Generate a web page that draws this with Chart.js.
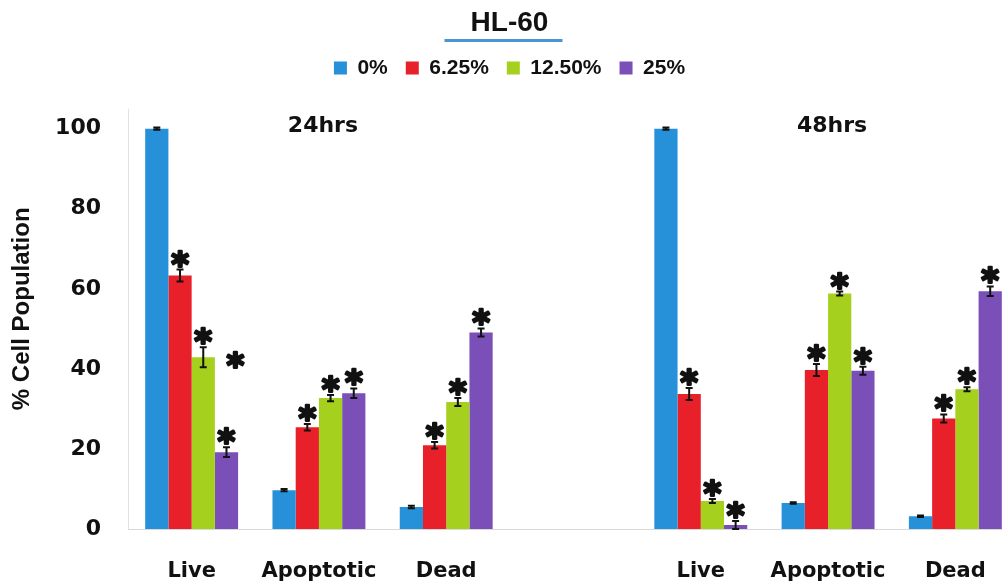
<!DOCTYPE html>
<html>
<head>
<meta charset="utf-8">
<title>HL-60</title>
<script src="https://cdn.jsdelivr.net/npm/chart.js@4.4.1/dist/chart.umd.min.js"></script>
<style>
    html, body { margin: 0; padding: 0; background: #fff; overflow: hidden; }
    #wrap { position: relative; width: 1034px; height: 585px; }
</style>
</head>
<body>
<div id="wrap"><canvas id="chart"></canvas></div>
<script>

// categories (slot 3 is the empty gap between 24hrs and 48hrs)
var labels = ['Live', 'Apoptotic', 'Dead', '', 'Live', 'Apoptotic', 'Dead'];
var groupLabels = ['24hrs', '48hrs'];
var groupAt = [1, 5];

var seriesNames = ['0%', '6.25%', '12.50%', '25%'];

// % cell population
var conc0   = [100, 9.7, 5.5, null, 100, 6.5, 3.2];
var conc625 = [63.3, 25.4, 20.9, null, 33.7, 39.7, 27.6];
var conc125 = [42.9, 32.7, 31.7, null, 7.0, 58.8, 34.9];
var conc25  = [19.2, 33.9, 49.1, null, 1.0, 39.5, 59.4];

// error bars
var err0   = [0.3, 0.3, 0.3, null, 0.3, 0.2, 0.2];
var err625 = [1.5, 0.8, 0.8, null, 1.5, 1.5, 1.0];
var err125 = [2.5, 0.8, 1.0, null, 0.5, 0.5, 0.5];
var err25  = [1.2, 1.2, 1.0, null, 1.0, 1.0, 1.2];

// significance marks (*)
var sig0   = [false, false, false, false, false, false, false];
var sig625 = [true, true, true, false, true, true, true];
var sig125 = [true, true, true, false, true, true, true];
var sig25  = [true, true, true, false, true, true, true];

// stray asterisk next to the 24hrs live bars
var extraStars = [{ cat: 0, ds: 3, value: 42.1 }];

var yTicks = [0, 20, 40, 60, 80, 100];
var yAxisTop = 105;

var colors = ['#2690d8', '#e8202a', '#a6d01e', '#7a4fb8'];

var values = [conc0, conc625, conc125, conc25];
var errors = [err0, err625, err125, err25];
var stars = [sig0, sig625, sig125, sig25];

function drawStar(ctx, x, cy) {
    ctx.font = 'bold 34px "DejaVu Sans"';
    ctx.textAlign = 'center';
    ctx.textBaseline = 'alphabetic';
    var m = ctx.measureText('*');
    var base = cy - (m.actualBoundingBoxDescent - m.actualBoundingBoxAscent) / 2;
    ctx.lineWidth = 2.5;
    ctx.lineJoin = 'round';
    ctx.strokeText('*', x, base);
    ctx.fillText('*', x, base);
}

// faint y axis line, only up to just above 100
var axisPlugin = {
    id: 'axisLine',
    beforeDatasetsDraw: function(chart) {
        var ctx = chart.ctx;
        var y = chart.scales.y;
        var left = chart.chartArea.left;
        ctx.save();
        ctx.strokeStyle = '#e2e2e2';
        ctx.lineWidth = 1;
        ctx.beginPath();
        ctx.moveTo(left + 0.5, y.getPixelForValue(yAxisTop));
        ctx.lineTo(left + 0.5, y.getPixelForValue(0));
        ctx.stroke();
        ctx.restore();
    }
};

// error bars, asterisks, group headers and title underline
var marksPlugin = {
    id: 'marks',
    afterDatasetsDraw: function(chart) {
        var ctx = chart.ctx;
        var y = chart.scales.y;
        ctx.save();
        ctx.strokeStyle = '#111';
        ctx.fillStyle = '#111';
        for (var d = 0; d < values.length; d++) {
            var meta = chart.getDatasetMeta(d);
            for (var i = 0; i < labels.length; i++) {
                var v = values[d][i];
                if (v === null) continue;
                var x = meta.data[i].x;
                var top = y.getPixelForValue(v + errors[d][i]);
                var bot = y.getPixelForValue(v - errors[d][i]);
                ctx.lineWidth = 2;
                ctx.beginPath();
                ctx.moveTo(x, top); ctx.lineTo(x, bot);
                ctx.moveTo(x - 3.5, top); ctx.lineTo(x + 3.5, top);
                ctx.moveTo(x - 3.5, bot); ctx.lineTo(x + 3.5, bot);
                ctx.stroke();
                if (stars[d][i]) {
                    drawStar(ctx, x, top - 11);
                }
            }
        }
        extraStars.forEach(function(s) {
            var el = chart.getDatasetMeta(s.ds).data[s.cat];
            drawStar(ctx, el.x + 9, y.getPixelForValue(s.value));
        });

        // 24hrs / 48hrs
        ctx.font = 'bold 22px "DejaVu Sans"';
        ctx.textAlign = 'center';
        ctx.textBaseline = 'middle';
        for (var g = 0; g < groupLabels.length; g++) {
            ctx.fillText(groupLabels[g], chart.scales.x.getPixelForValue(groupAt[g]) + 4, y.getPixelForValue(100) - 2);
        }

        // underline below the title
        var tb = chart.titleBlock;
        var cx = (tb.left + tb.right) / 2;
        ctx.strokeStyle = '#4a95d4';
        ctx.lineWidth = 3;
        ctx.beginPath();
        ctx.moveTo(cx - 65, tb.bottom + 1);
        ctx.lineTo(cx + 53, tb.bottom + 1);
        ctx.stroke();
        ctx.restore();
    }
};

var ctx = document.getElementById('chart');

var myChart = new Chart(ctx, {
    type: 'bar',
    data: {
        labels: labels,
        datasets: seriesNames.map(function(name, d) {
            return {
                label: name,
                data: values[d],
                backgroundColor: colors[d],
                borderWidth: 0,
                categoryPercentage: 0.73,
                barPercentage: 1.0
            };
        })
    },
    options: {
        responsive: true,
        maintainAspectRatio: false,
        animation: false,
        layout: { padding: { left: 0, right: 15, top: 0, bottom: 0 } },
        plugins: {
            title: {
                display: true,
                text: 'HL-60',
                color: '#111',
                font: { family: '"Liberation Sans"', size: 28, weight: 'bold' },
                padding: { top: 6, bottom: 0 }
            },
            legend: {
                display: true,
                labels: {
                    color: '#111',
                    font: { family: '"Liberation Sans"', size: 21, weight: 'bold' },
                    boxWidth: 13,
                    boxHeight: 13,
                    padding: 18
                }
            },
            tooltip: { enabled: false }
        },
        scales: {
            x: {
                grid: { display: false, drawTicks: false },
                border: { display: true, color: '#d9d9d9' },
                ticks: {
                    color: '#111',
                    font: { family: '"DejaVu Sans"', size: 21, weight: 'bold' },
                    padding: 30,
                    maxRotation: 0,
                    autoSkip: false
                },
                afterFit: function(scale) { scale.height = 56; }
            },
            y: {
                min: 0,
                max: 110,
                grid: { display: false, drawTicks: false },
                border: { display: false },
                ticks: {
                    stepSize: 20,
                    color: '#111',
                    font: { family: '"DejaVu Sans"', size: 22, weight: 'bold' },
                    padding: 27
                },
                afterBuildTicks: function(scale) {
                    scale.ticks = yTicks.map(function(v) { return { value: v }; });
                },
                title: {
                    display: true,
                    text: '% Cell Population',
                    color: '#111',
                    font: { family: '"Liberation Sans"', size: 24, weight: 'bold' },
                    padding: { top: 8, bottom: 0 }
                },
                afterFit: function(scale) { scale.width = 128; }
            }
        }
    },
    plugins: [axisPlugin, marksPlugin]
});
</script>
</body>
</html>
